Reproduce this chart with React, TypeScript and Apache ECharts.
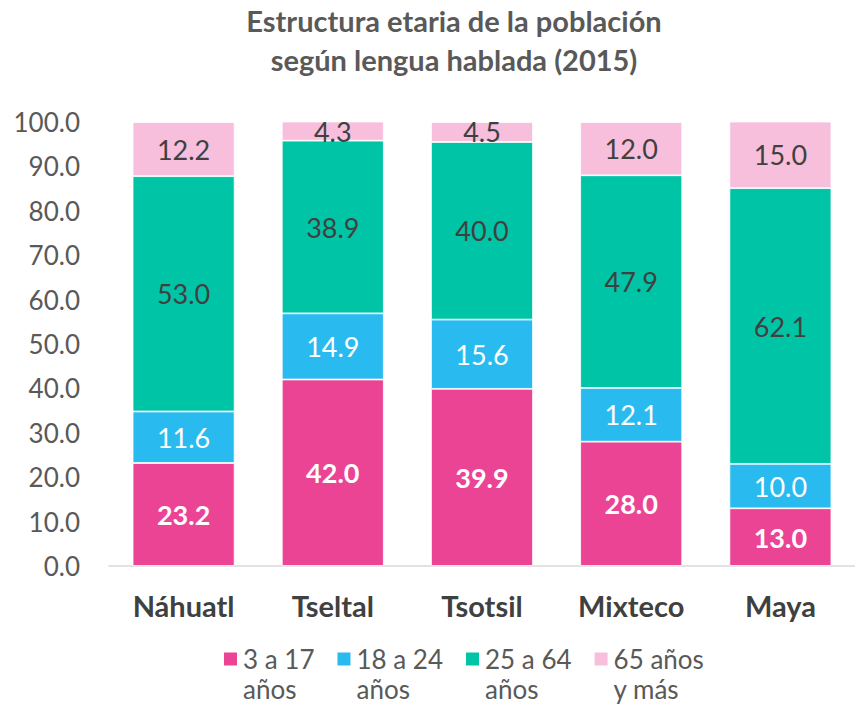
import React, { useEffect, useRef } from "react";
import * as echarts from "echarts";

const categories = ["Náhuatl", "Tseltal", "Tsotsil", "Mixteco", "Maya"];
const seriesNames = ["3 a 17\naños", "18 a 24\naños", "25 a 64\naños", "65 años\ny más"];
const age3to17 = [23.2, 42.0, 39.9, 28.0, 13.0];
const age18to24 = [11.6, 14.9, 15.6, 12.1, 10.0];
const age25to64 = [53.0, 38.9, 40.0, 47.9, 62.1];
const age65plus = [12.2, 4.3, 4.5, 12.0, 15.0];
const yTicks = [0, 10, 20, 30, 40, 50, 60, 70, 80, 90, 100];

const colors = ["#EC4494", "#29BBF0", "#00C4A6", "#F7BFDC"];
const labelColors = ["#FFFFFF", "#FFFFFF", "#404040", "#404040"];
const labelWeights = ["bold", "normal", "normal", "normal"];
const FONT = "Lato";

export default function App() {
  const ref = useRef<HTMLDivElement>(null);
  useEffect(() => {
    document.body.style.margin = "0";
    if (!ref.current) return;
    const chart = echarts.init(ref.current, undefined, { renderer: "svg" });
    const data = [age3to17, age18to24, age25to64, age65plus];
    chart.setOption({
      animation: false,
      textStyle: { fontFamily: FONT },
      title: {
        text: "Estructura etaria de la población\nsegún lengua hablada (2015)",
        left: 449,
        top: -4,
        textAlign: "center",
        textStyle: {
          fontFamily: FONT,
          fontSize: 29,
          fontWeight: "bold",
          color: "#595959",
          lineHeight: 39,
        },
      },
      legend: {
        left: 217,
        top: 609,
        itemWidth: 15,
        itemHeight: 15,
        itemGap: 21,
        icon: "rect",
        formatter: (name: string) => " \n" + name,
        textStyle: {
          fontFamily: FONT,
          fontSize: 26,
          color: "#595959",
          lineHeight: 30,
        },
        data: seriesNames,
      },
      grid: { left: 109, top: 122, width: 760, height: 444, containLabel: false },
      xAxis: {
        type: "category",
        data: categories,
        axisLine: { lineStyle: { color: "#D9D9D9", width: 1.5 } },
        axisTick: { show: false },
        axisLabel: {
          fontFamily: FONT,
          fontSize: 29,
          fontWeight: "bold",
          color: "#404040",
          margin: 25,
        },
      },
      yAxis: {
        type: "value",
        min: yTicks[0],
        max: yTicks[yTicks.length - 1],
        interval: 10,
        splitLine: { show: false },
        axisLine: { show: false },
        axisTick: { show: false },
        axisLabel: {
          fontFamily: FONT,
          fontSize: 26,
          color: "#595959",
          margin: 29,
          formatter: (v: number) => v.toFixed(1),
        },
      },
      series: seriesNames.map((name, i) => ({
        name,
        type: "bar",
        stack: "total",
        barWidth: 102,
        data: data[i],
        itemStyle: { color: colors[i], borderColor: "#FFFFFF", borderWidth: 0.8 },
        label: {
          show: true,
          position: "inside",
          fontFamily: FONT,
          fontSize: 27,
          fontWeight: labelWeights[i],
          color: labelColors[i],
          formatter: (p: any) => Number(p.value).toFixed(1),
        },
      })),
    });
    return () => chart.dispose();
  }, []);
  return <div ref={ref} style={{ width: 855, height: 706 }} />;
}
